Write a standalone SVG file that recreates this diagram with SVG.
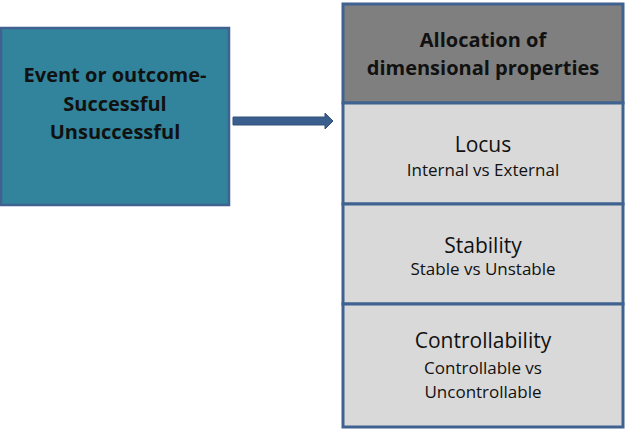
<svg xmlns="http://www.w3.org/2000/svg" width="625" height="440" viewBox="0 0 625 440">
<style>
.t{font-family:"Open Sans","Liberation Sans",sans-serif;text-anchor:middle;fill:#111}
.b{font-weight:bold;font-size:20px}
.h{font-size:21px}
.s{font-size:17px}
.cell{fill:#d9d9d9;stroke:#3f6290;stroke-width:3}
</style>
<rect width="625" height="440" fill="#fff"/>
<g id="event">
<rect x="1" y="28" width="228" height="177" fill="#31849b" stroke="#3f6290" stroke-width="2.5"/>
<text class="t b" x="115" y="82">Event or outcome-</text>
<text class="t b" x="115" y="111">Successful</text>
<text class="t b" x="115" y="139">Unsuccessful</text>
</g>
<g id="connectors">
<polygon points="233,117 325,117 325,113 333,121 325,129 325,125 233,125" fill="#3a5f8f" stroke="#33507a" stroke-width="1"/>
</g>
<g id="header">
<rect x="343" y="4" width="280" height="99" fill="#7f7f7f" stroke="#3f6290" stroke-width="3"/>
<text class="t b" x="483" y="47">Allocation of</text>
<text class="t b" x="483" y="75">dimensional properties</text>
</g>
<g id="locus">
<rect class="cell" x="343" y="103" width="280" height="101"/>
<text class="t h" x="483" y="152">Locus</text>
<text class="t s" x="483" y="176">Internal vs External</text>
</g>
<g id="stability">
<rect class="cell" x="343" y="204" width="280" height="100"/>
<text class="t h" x="483" y="253">Stability</text>
<text class="t s" x="483" y="275">Stable vs Unstable</text>
</g>
<g id="controllability">
<rect class="cell" x="343" y="304" width="280" height="123"/>
<text class="t h" x="483" y="348">Controllability</text>
<text class="t s" x="483" y="374">Controllable vs</text>
<text class="t s" x="483" y="398">Uncontrollable</text>
</g>
</svg>
